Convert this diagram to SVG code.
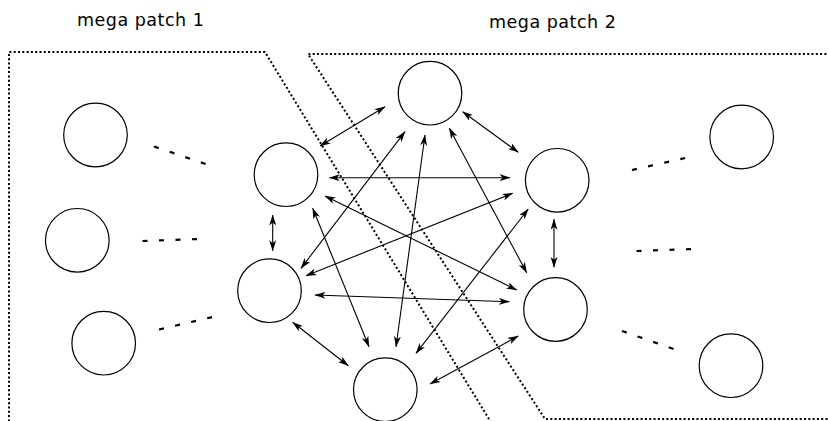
<svg xmlns="http://www.w3.org/2000/svg" width="828" height="421" viewBox="0 0 828 421">
<style>
.node{fill:#fff;stroke:#000;stroke-width:1.2}
.patch{fill:none;stroke:#000;stroke-width:2;stroke-dasharray:2 2.3}
.dash{fill:none;stroke:#000;stroke-width:2.2;stroke-dasharray:5 11.5}
.edge{fill:none;stroke:#000;stroke-width:1.1;marker-start:url(#ah);marker-end:url(#ah)}
.label{font-family:"DejaVu Sans",Verdana,sans-serif;font-size:17.5px;letter-spacing:0.5px;fill:#000}
</style>
<defs>
<marker id="ah" viewBox="0 0 11 7" markerWidth="11" markerHeight="7" refX="10.5" refY="3.5" orient="auto-start-reverse" markerUnits="userSpaceOnUse">
<path d="M0,0 L11,3.5 L0,7 L3,3.5 z" fill="#000"/>
</marker>
</defs>
<rect width="828" height="421" fill="#fff"/>
<g id="patches">
<path class="patch" d="M9,430 L9,52 L265,52 L492,424"/>
<path class="patch" d="M835,54 L308,54 L545,419 L835,419"/>
</g>
<g id="labels">
<text class="label" x="77" y="26">mega patch 1</text>
<text class="label" x="489" y="27.5">mega patch 2</text>
</g>
<g id="connectors">
<line class="dash" x1="154" y1="146.5" x2="208.5" y2="165"/>
<line class="dash" x1="142.5" y1="241" x2="199.5" y2="239"/>
<line class="dash" x1="159" y1="329.5" x2="214.5" y2="316.5"/>
<line class="dash" x1="632" y1="170" x2="687.5" y2="157.5"/>
<line class="dash" x1="636.5" y1="251" x2="693.5" y2="249"/>
<line class="dash" x1="622" y1="331" x2="676.5" y2="350"/>
<line class="edge" x1="320" y1="146" x2="385" y2="106.7"/>
<line class="edge" x1="462.7" y1="111.7" x2="518.3" y2="152.3"/>
<line class="edge" x1="329.3" y1="177.7" x2="510" y2="177.7"/>
<line class="edge" x1="301" y1="268.3" x2="405" y2="131.7"/>
<line class="edge" x1="425" y1="135" x2="396" y2="346.7"/>
<line class="edge" x1="449.3" y1="128.3" x2="526.7" y2="272.7"/>
<line class="edge" x1="325" y1="196" x2="516.7" y2="290"/>
<line class="edge" x1="312.7" y1="208.3" x2="369" y2="346.7"/>
<line class="edge" x1="272.7" y1="215" x2="272.7" y2="250.7"/>
<line class="edge" x1="306" y1="275.7" x2="512.7" y2="193.3"/>
<line class="edge" x1="315" y1="295" x2="509.3" y2="301.7"/>
<line class="edge" x1="292.7" y1="322.3" x2="348.3" y2="365.7"/>
<line class="edge" x1="430" y1="384" x2="518.3" y2="336"/>
<line class="edge" x1="554" y1="219.3" x2="554" y2="267.3"/>
<line class="edge" x1="416" y1="353.3" x2="528.3" y2="209"/>
</g>
<g id="A1"><circle class="node" cx="95.5" cy="135" r="31.8"/></g>
<g id="A2"><circle class="node" cx="77.3" cy="240.3" r="31.8"/></g>
<g id="A3"><circle class="node" cx="103.7" cy="343.2" r="31.8"/></g>
<g id="B1"><circle class="node" cx="286" cy="174.7" r="31.8"/></g>
<g id="B2"><circle class="node" cx="269.5" cy="290.7" r="31.8"/></g>
<g id="B3"><circle class="node" cx="385.3" cy="389.7" r="31.8"/></g>
<g id="C"><circle class="node" cx="430" cy="93.2" r="31.8"/></g>
<g id="D1"><circle class="node" cx="557.2" cy="180.3" r="31.8"/></g>
<g id="D2"><circle class="node" cx="555.5" cy="309.5" r="31.8"/></g>
<g id="E1"><circle class="node" cx="741.7" cy="137" r="31.8"/></g>
<g id="E2"><circle class="node" cx="731" cy="365.7" r="31.8"/></g>
</svg>
